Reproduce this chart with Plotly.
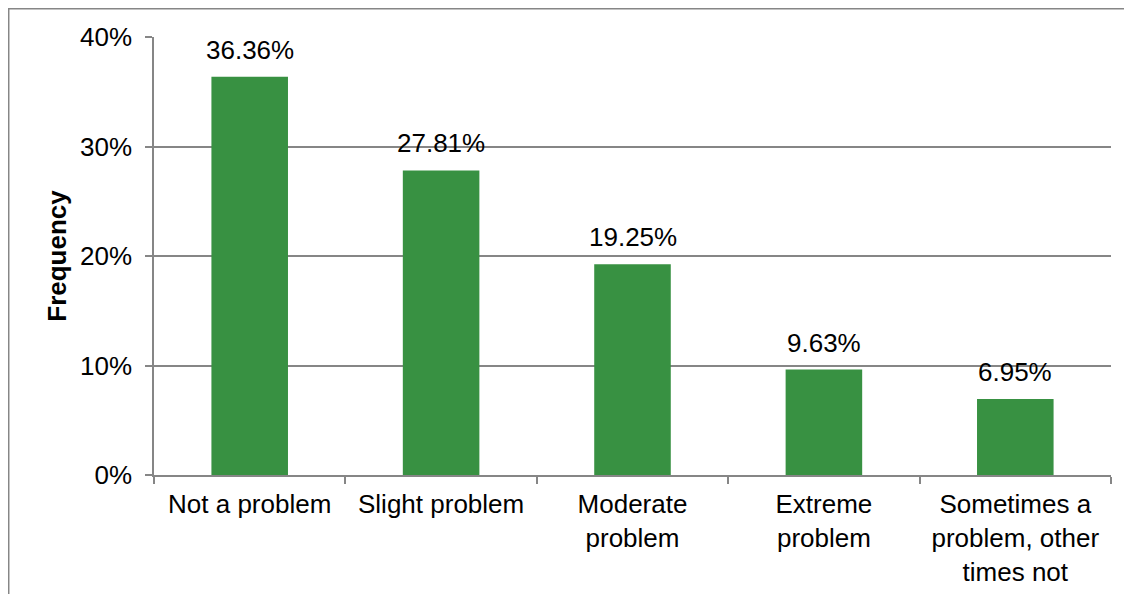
import plotly.graph_objects as go

categories = ["Not a problem", "Slight problem", "Moderate<br>problem", "Extreme<br>problem",
              "Sometimes a<br>problem, other<br>times not"]
values = [0.3636, 0.2781, 0.1925, 0.0963, 0.0695]
labels = ["36.36%", "27.81%", "19.25%", "9.63%", "6.95%"]

FONT = "Liberation Sans, Arial, sans-serif"
GRAY = "#868686"
GREEN = "#389142"

fig = go.Figure()
fig.add_trace(go.Bar(x=categories, y=values, marker=dict(color=GREEN, line=dict(width=0)),
                     width=0.4, hoverinfo="skip"))

for c, v, t in zip(categories, values, labels):
    fig.add_annotation(x=c, y=v, text=t, showarrow=False, yanchor="bottom", yshift=10,
                       font=dict(family=FONT, size=26, color="black"))

# outer chart border (extends past visible window on right and bottom)
fig.add_shape(type="rect", xref="paper", yref="paper", x0=-0.1518, x1=1.5, y0=-1.0, y1=1.0645,
              line=dict(color=GRAY, width=1.5), layer="below")

fig.update_layout(
    width=1132, height=594,
    margin=dict(l=146, r=29, t=29, b=127),
    plot_bgcolor="white", paper_bgcolor="white",
    font=dict(family=FONT, size=26, color="black"),
    showlegend=False,
    bargap=0.6,
)
fig.update_yaxes(range=[0, 0.4], dtick=0.1, tickformat=".0%",
                 showgrid=True, gridcolor=GRAY, gridwidth=1.5,
                 showline=True, linecolor=GRAY, linewidth=1.5,
                 ticks="outside", ticklen=7, tickcolor=GRAY, tickwidth=1.5,
                 ticklabelstandoff=8, zeroline=False,
                 title=dict(text="<b>Frequency</b>", font=dict(family=FONT, size=26), standoff=6))
fig.update_xaxes(showline=True, linecolor=GRAY, linewidth=1.5,
                 ticks="outside", ticklen=7, tickcolor=GRAY, tickwidth=1.5,
                 ticklabelstandoff=5,
                 tickson="boundaries", showgrid=False, tickangle=0)

fig.write_html("out.html")
